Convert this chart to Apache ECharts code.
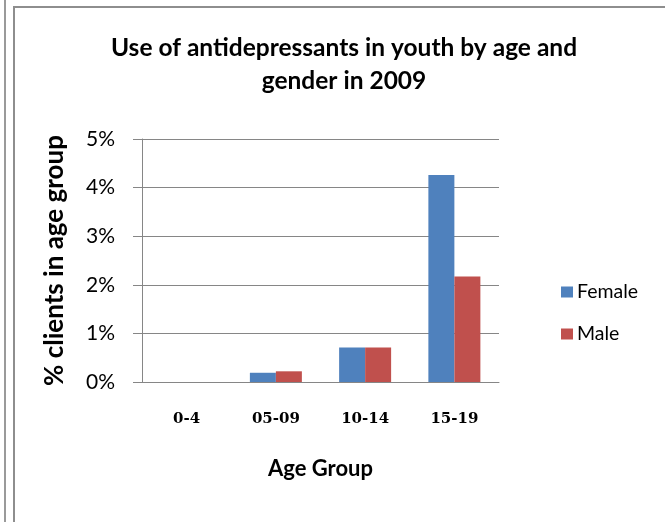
<!DOCTYPE html>
<html>
<head>
<meta charset="utf-8">
<script src="https://cdn.jsdelivr.net/npm/echarts@6/dist/echarts.min.js"></script>
<style>html,body{margin:0;padding:0;background:#fff}#c{width:665px;height:522px}</style>
</head>
<body>
<div id="c"></div>
<script>
const categories = ['0-4', '05-09', '10-14', '15-19'];
const femaleValues = [0, 0.0019, 0.0071, 0.0426];
const maleValues = [0, 0.0022, 0.0071, 0.0217];
const seriesNames = ['Female', 'Male'];
const titleText = 'Use of antidepressants in youth by age and\ngender in 2009';
const yAxisName = '% clients in age group';
const xAxisName = 'Age Group';

const chart = echarts.init(document.getElementById('c'), null, {renderer: 'canvas'});
const axisColor = '#868686';
chart.setOption({
  animation: false,
  backgroundColor: '#fff',
  graphic: [
    {type: 'line', shape: {x1: 5, y1: 0, x2: 5, y2: 522}, style: {stroke: '#9a9a9a', lineWidth: 2}},
    {type: 'rect', shape: {x: 14, y: 7, width: 700, height: 600}, style: {fill: 'none', stroke: '#8e8e8e', lineWidth: 2}}
  ],
  title: {
    text: titleText,
    left: 339,
    textAlign: 'center',
    top: 27,
    textStyle: {fontFamily: 'Lato', fontWeight: 'bold', fontSize: 24.5, lineHeight: 33, color: '#000'}
  },
  legend: {
    orient: 'vertical',
    left: 561,
    top: 282,
    padding: 0,
    itemWidth: 12,
    itemHeight: 11,
    itemGap: 22,
    icon: 'rect',
    textStyle: {fontFamily: 'Lato', fontSize: 19.5, color: '#000', padding: [0, 0, 0, -1]},
    data: seriesNames
  },
  grid: {left: 142, right: 166, top: 139, bottom: 140, containLabel: false},
  xAxis: {
    type: 'category',
    data: categories,
    name: xAxisName,
    nameLocation: 'middle',
    nameGap: 76,
    nameTextStyle: {fontFamily: 'Lato', fontWeight: 'bold', fontSize: 22, color: '#000'},
    axisLine: {lineStyle: {color: axisColor, width: 1}},
    axisTick: {show: false},
    axisLabel: {margin: 30, fontFamily: 'DejaVu Serif', fontWeight: 'bold', fontSize: 15, color: '#000'}
  },
  yAxis: {
    type: 'value',
    min: 0,
    max: 0.05,
    interval: 0.01,
    name: yAxisName,
    nameLocation: 'middle',
    nameGap: 74,
    nameTextStyle: {fontFamily: 'Lato', fontWeight: 'bold', fontSize: 26, color: '#000'},
    axisLine: {show: true, lineStyle: {color: axisColor, width: 1}},
    axisTick: {show: true, length: 9, lineStyle: {color: axisColor}},
    splitLine: {lineStyle: {color: axisColor, width: 1}},
    axisLabel: {
      margin: 27,
      fontFamily: 'Lato',
      fontSize: 21,
      color: '#000',
      formatter: v => Math.round(v * 100) + '%'
    }
  },
  series: [
    {name: seriesNames[0], type: 'bar', data: femaleValues, barWidth: 26, barGap: '0%', itemStyle: {color: '#4F81BD'}},
    {name: seriesNames[1], type: 'bar', data: maleValues, barWidth: 26, barGap: '0%', itemStyle: {color: '#C0504D'}}
  ]
});
</script>
</body>
</html>
